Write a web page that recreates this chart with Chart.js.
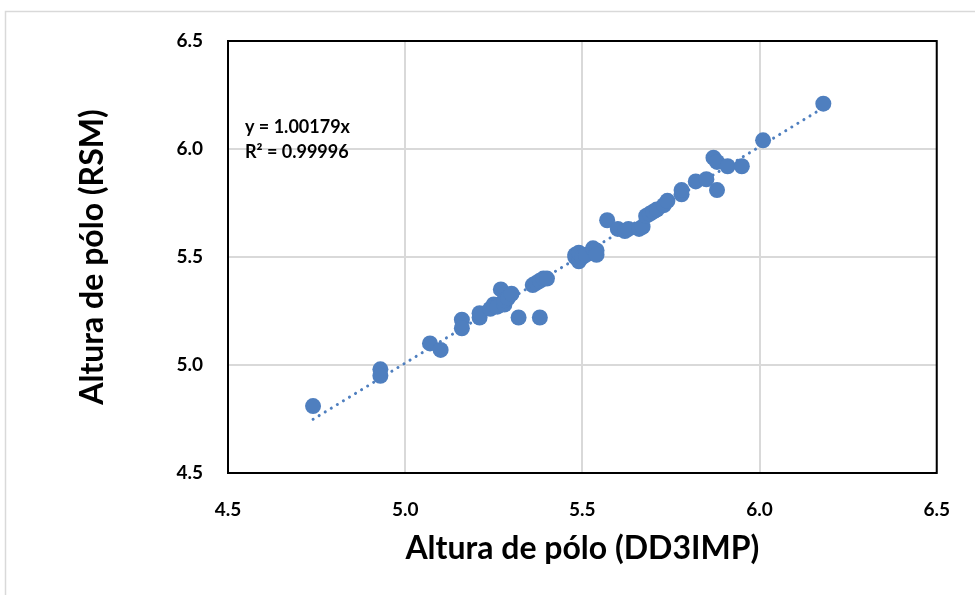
<!DOCTYPE html>
<html>
<head>
<meta charset="utf-8">
<script src="https://cdn.jsdelivr.net/npm/chart.js@4.4.1/dist/chart.umd.min.js"></script>
<style>
  html, body { margin: 0; padding: 0; background: #fff; }
  #wrap { position: relative; width: 975px; height: 595px; }
</style>
</head>
<body>
<div id="wrap"><canvas id="chart" width="975" height="595"></canvas></div>
<script>
// valores
const xVals = [4.74, 4.93, 4.93, 5.07, 5.10, 5.16, 5.16, 5.21, 5.21, 5.24, 5.25, 5.26, 5.27, 5.28, 5.28, 5.29, 5.30,
  5.32, 5.38, 5.36, 5.37, 5.38, 5.39, 5.40, 5.48, 5.48, 5.49, 5.49, 5.50, 5.51, 5.53, 5.54, 5.54,
  5.57, 5.60, 5.62, 5.63, 5.66, 5.67, 5.68, 5.69, 5.70, 5.71, 5.73, 5.74, 5.78, 5.78, 5.82, 5.85,
  5.87, 5.88, 5.88, 5.91, 5.95, 6.01, 6.18];
const yVals = [4.81, 4.98, 4.95, 5.10, 5.07, 5.21, 5.17, 5.22, 5.24, 5.26, 5.28, 5.27, 5.35, 5.28, 5.30, 5.31, 5.33,
  5.22, 5.22, 5.37, 5.38, 5.39, 5.40, 5.40, 5.51, 5.50, 5.48, 5.52, 5.50, 5.51, 5.54, 5.53, 5.51,
  5.67, 5.63, 5.62, 5.63, 5.63, 5.64, 5.69, 5.70, 5.71, 5.72, 5.74, 5.76, 5.79, 5.81, 5.85, 5.86,
  5.96, 5.94, 5.81, 5.92, 5.92, 6.04, 6.21];
const slope = 1.00179;
const eqLines = ['y = 1.00179x', 'R² = 0.99996'];
const xTitle = 'Altura de pólo (DD3IMP)';
const yTitle = 'Altura de pólo (RSM)';
const axisMin = 4.5, axisMax = 6.5, axisStep = 0.5;

const points = xVals.map((x, i) => ({ x: x, y: yVals[i] }));
const xMin = Math.min(...xVals), xMax = Math.max(...xVals);
const trend = [{ x: xMin, y: slope * xMin }, { x: xMax, y: slope * xMax }];

const blue = '#4f7fbf';
const fontFam = 'Lato, "Open Sans", sans-serif';

// moldura externa + equação
const extras = {
  id: 'extras',
  beforeDraw(c) {
    const ctx = c.ctx;
    ctx.save();
    ctx.strokeStyle = '#d9d9d9';
    ctx.lineWidth = 1.5;
    ctx.strokeRect(5.5, 11.5, 1100, 700);
    ctx.restore();
  },
  afterDraw(c) {
    const ctx = c.ctx;
    const a = c.chartArea;
    ctx.save();
    ctx.strokeStyle = '#000';
    ctx.lineWidth = 2;
    ctx.strokeRect(a.left, a.top, a.right - a.left, a.bottom - a.top);
    ctx.fillStyle = '#000';
    ctx.font = 'bold 18px ' + fontFam;
    ctx.textBaseline = 'middle';
    ctx.fillText(eqLines[0], 245, 127);
    ctx.fillText(eqLines[1], 245, 152);
    ctx.restore();
  }
};

const ctx = document.getElementById('chart').getContext('2d');
new Chart(ctx, {
  type: 'scatter',
  data: {
    datasets: [
      {
        label: 'dados',
        data: points,
        backgroundColor: blue,
        borderColor: blue,
        pointRadius: 8,
        pointHoverRadius: 8,
        borderWidth: 0,
      },
      {
        label: 'tendência',
        data: trend,
        showLine: true,
        borderColor: blue,
        borderWidth: 3,
        borderDash: [0.1, 7],
        borderCapStyle: 'round',
        pointRadius: 0,
        fill: false,
      },
    ],
  },
  options: {
    responsive: false,
    animation: false,
    layout: { padding: { top: 41, right: 35, left: 0, bottom: 0 } },
    plugins: {
      legend: { display: false },
      tooltip: { enabled: false },
    },
    scales: {
      x: {
        type: 'linear',
        min: axisMin,
        max: axisMax,
        border: { display: false },
        grid: { color: '#d9d9d9', lineWidth: 2, drawTicks: false },
        ticks: {
          stepSize: axisStep,
          padding: 25,
          color: '#000',
          font: { family: fontFam, size: 19, weight: 'bold' },
          callback: v => v.toFixed(1),
        },
        title: {
          display: true,
          text: xTitle,
          color: '#000',
          font: { family: fontFam, size: 32, weight: 'bold' },
          padding: { top: 4, bottom: 27 },
        },
        afterFit(scale) { scale.height = 595 - 473; },
      },
      y: {
        type: 'linear',
        min: axisMin,
        max: axisMax,
        border: { display: false },
        grid: { color: '#d9d9d9', lineWidth: 2, drawTicks: false },
        ticks: {
          stepSize: axisStep,
          padding: 25,
          color: '#000',
          font: { family: fontFam, size: 19, weight: 'bold' },
          callback: v => v.toFixed(1),
        },
        title: {
          display: true,
          text: yTitle,
          color: '#000',
          font: { family: fontFam, size: 32, weight: 'bold' },
          padding: { top: 73, bottom: 0 },
        },
        afterFit(scale) { scale.width = 228; },
      },
    },
  },
  plugins: [extras],
});
</script>
</body>
</html>
